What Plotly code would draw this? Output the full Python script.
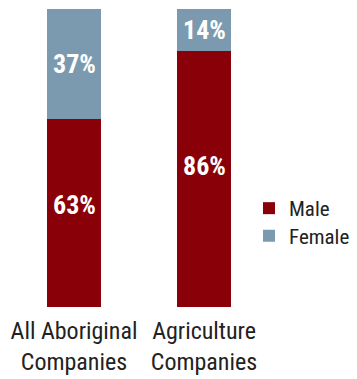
import plotly.graph_objects as go

# Gender split of company ownership (percent)
categories = ["All Aboriginal<br>Companies", "Agriculture<br>Companies"]
male = [63, 86]
female = [37, 14]

MALE_COLOR = "#8A0008"
FEMALE_COLOR = "#7B9AAF"
FONT = "Roboto Condensed, DejaVu Sans Condensed, sans-serif"

x_pos = [0, 1]

fig = go.Figure()
fig.add_trace(go.Bar(x=x_pos, y=male, name="Male", marker_color=MALE_COLOR,
                     marker_line_width=0, legend="legend"))
fig.add_trace(go.Bar(x=x_pos, y=female, name="Female", marker_color=FEMALE_COLOR,
                     marker_line_width=0, legend="legend2"))

# Percentage labels inside each segment
male_shift = [8, 13]
for i, xv in enumerate(x_pos):
    fig.add_annotation(x=xv, y=male[i] / 2, text=f"<b>{male[i]}%</b>",
                       showarrow=False, yshift=male_shift[i],
                       font=dict(family=FONT, size=26, color="white"))
    fig.add_annotation(x=xv, y=male[i] + female[i] / 2, text=f"<b>{female[i]}%</b>",
                       showarrow=False,
                       font=dict(family=FONT, size=26, color="white"))

legend_style = dict(xanchor="left", yanchor="middle", bgcolor="rgba(0,0,0,0)",
                    font=dict(family=FONT, size=21, color="#222222"))

fig.update_layout(
    width=357, height=379,
    margin=dict(l=0, r=0, t=9, b=72),
    barmode="stack",
    bargap=0.585,
    plot_bgcolor="white",
    paper_bgcolor="white",
    font=dict(family=FONT, color="#222222"),
    showlegend=True,
    legend=dict(x=249 / 357, y=0.3305, **legend_style),
    legend2=dict(x=249 / 357, y=0.238, **legend_style),
    xaxis=dict(range=[-74 / 130, -74 / 130 + 357 / 130], tickmode="array",
               tickvals=x_pos, ticktext=categories, showgrid=False, zeroline=False,
               showline=False, ticks="", ticklabelstandoff=7,
               tickfont=dict(family=FONT, size=24, color="#222222")),
    yaxis=dict(range=[0, 100], visible=False, showgrid=False, zeroline=False),
)

fig.write_html("out.html")
